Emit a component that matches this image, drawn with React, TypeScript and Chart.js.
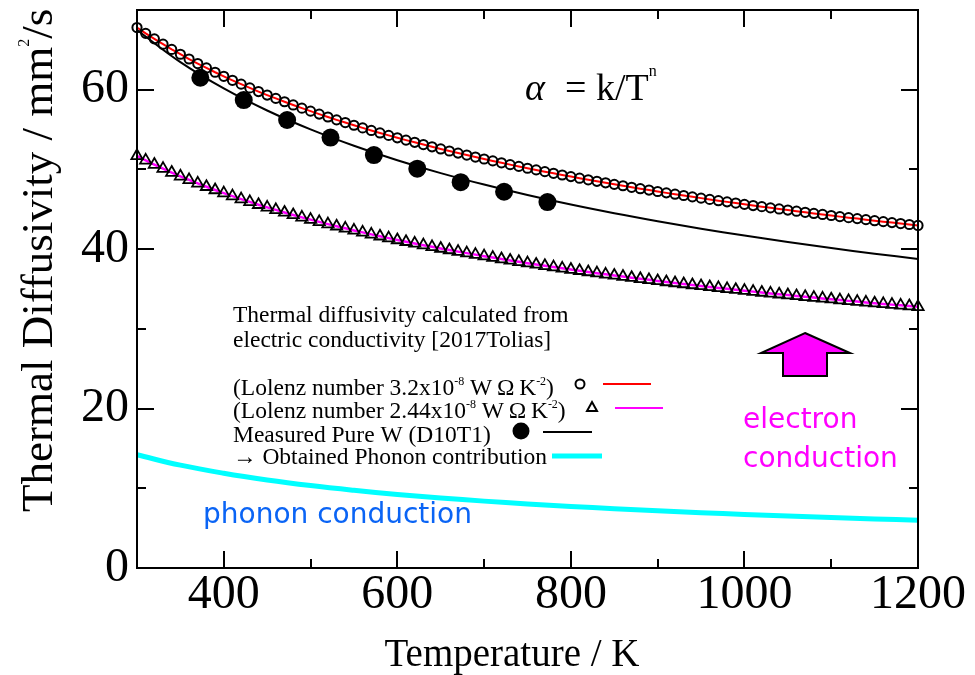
import React, { useEffect, useRef } from "react";
import { Chart, registerables } from "chart.js";

Chart.register(...registerables);

// Calculated thermal diffusivity from electric conductivity [2017Tolias]
const calcTemps = [
  300, 310, 320, 330, 340, 350, 360, 370, 380, 390, 400, 410, 420, 430, 440, 450, 460, 470, 480, 490,
  500, 510, 520, 530, 540, 550, 560, 570, 580, 590, 600, 610, 620, 630, 640, 650, 660, 670, 680, 690,
  700, 710, 720, 730, 740, 750, 760, 770, 780, 790, 800, 810, 820, 830, 840, 850, 860, 870, 880, 890,
  900, 910, 920, 930, 940, 950, 960, 970, 980, 990, 1000, 1010, 1020, 1030, 1040, 1050, 1060, 1070, 1080, 1090,
  1100, 1110, 1120, 1130, 1140, 1150, 1160, 1170, 1180, 1190, 1200,
];
// Lolenz number 3.2e-8
const circleAlpha = [
  67.8, 67.07, 66.38, 65.71, 65.06, 64.45, 63.85, 63.28, 62.73, 62.19, 61.68, 61.18, 60.7, 60.23, 59.77, 59.33, 58.91, 58.49, 58.09, 57.69,
  57.31, 56.94, 56.58, 56.22, 55.88, 55.54, 55.21, 54.89, 54.58, 54.27, 53.97, 53.68, 53.4, 53.12, 52.84, 52.57, 52.31, 52.05, 51.8, 51.55,
  51.31, 51.07, 50.83, 50.6, 50.38, 50.15, 49.94, 49.72, 49.51, 49.3, 49.1, 48.9, 48.7, 48.51, 48.32, 48.13, 47.95, 47.76, 47.58, 47.41,
  47.23, 47.06, 46.89, 46.73, 46.56, 46.4, 46.24, 46.08, 45.93, 45.78, 45.62, 45.47, 45.33, 45.18, 45.04, 44.9, 44.76, 44.62, 44.48, 44.35,
  44.22, 44.08, 43.95, 43.83, 43.7, 43.57, 43.45, 43.33, 43.21, 43.09, 42.97,
];
// Lolenz number 2.44e-8
const triangleAlpha = [
  51.7, 51.14, 50.61, 50.1, 49.61, 49.14, 48.69, 48.25, 47.83, 47.42, 47.03, 46.65, 46.28, 45.93, 45.57, 45.24, 44.92, 44.6, 44.29, 43.99,
  43.7, 43.42, 43.14, 42.87, 42.61, 42.35, 42.1, 41.85, 41.62, 41.38, 41.15, 40.93, 40.72, 40.5, 40.29, 40.08, 39.89, 39.69, 39.5, 39.31,
  39.12, 38.94, 38.76, 38.58, 38.41, 38.24, 38.08, 37.91, 37.75, 37.59, 37.44, 37.29, 37.13, 36.99, 36.84, 36.7, 36.56, 36.42, 36.28, 36.15,
  36.01, 35.88, 35.75, 35.63, 35.5, 35.38, 35.26, 35.14, 35.02, 34.91, 34.79, 34.67, 34.56, 34.45, 34.34, 34.24, 34.13, 34.02, 33.92, 33.82,
  33.72, 33.61, 33.51, 33.42, 33.32, 33.22, 33.13, 33.04, 32.95, 32.86, 32.76,
];

// Measured Pure W (D10T1)
const measuredTemps = [373, 423, 473, 523, 573, 623, 673, 723, 773];
const measuredAlpha = [61.5, 58.7, 56.2, 54.0, 51.8, 50.1, 48.4, 47.2, 45.9];

// Fit curves
const fitTemps = [300, 350, 400, 450, 500, 550, 600, 650, 700, 750, 800, 850, 900, 950, 1000, 1050, 1100, 1150, 1200];
const measuredFitAlpha = [67.5, 63.46, 60.16, 57.39, 55.02, 52.97, 51.16, 49.54, 48.1, 46.79, 45.59, 44.5, 43.5, 42.57, 41.7, 40.9, 40.14, 39.43, 38.77];
const phononAlpha = [14.2, 12.9, 11.88, 11.04, 10.34, 9.75, 9.23, 8.79, 8.39, 8.04, 7.72, 7.44, 7.18, 6.94, 6.72, 6.52, 6.34, 6.16, 6.0];

// Axes
const xMajorTicks = [400, 600, 800, 1000, 1200];
const xMinorTicks = [500, 700, 900, 1100];
const yMajorTicks = [0, 20, 40, 60];
const yMinorTicks = [10, 30, 50, 70];

const SERIF = "'Liberation Serif', 'Times New Roman', serif";
const SANS = "'DejaVu Sans', 'Noto Sans', sans-serif";

const pts = (xs: number[], ys: number[]) => xs.map((x, i) => ({ x, y: ys[i] }));

type Seg = { t: string; sup?: boolean };

function drawRich(ctx: CanvasRenderingContext2D, x: number, y: number, segs: Seg[], size: number, supSize: number, raise: number) {
  let cx = x;
  ctx.textAlign = "left";
  ctx.textBaseline = "alphabetic";
  for (const s of segs) {
    ctx.font = `${s.sup ? supSize : size}px ${SERIF}`;
    ctx.fillText(s.t, cx, s.sup ? y - raise : y);
    cx += ctx.measureText(s.t).width;
  }
  return cx;
}

const decorPlugin = {
  id: "decor",
  afterDraw(chart: any) {
    const ctx: CanvasRenderingContext2D = chart.ctx;
    const { left, right, top, bottom } = chart.chartArea;
    const xs = chart.scales.x;
    const ys = chart.scales.y;
    ctx.save();
    ctx.strokeStyle = "#000";
    ctx.fillStyle = "#000";
    ctx.lineWidth = 2;
    ctx.strokeRect(left, top, right - left, bottom - top);
    const major = 17;
    const minor = 9;
    ctx.beginPath();
    const xt = (vals: number[], len: number) => {
      for (const v of vals) {
        const p = Math.round(xs.getPixelForValue(v));
        ctx.moveTo(p, bottom);
        ctx.lineTo(p, bottom - len);
        ctx.moveTo(p, top);
        ctx.lineTo(p, top + len);
      }
    };
    const yt = (vals: number[], len: number) => {
      for (const v of vals) {
        const p = Math.round(ys.getPixelForValue(v));
        ctx.moveTo(left, p);
        ctx.lineTo(left + len, p);
        ctx.moveTo(right, p);
        ctx.lineTo(right - len, p);
      }
    };
    xt(xMajorTicks, major);
    xt(xMinorTicks, minor);
    yt(yMajorTicks, major);
    yt(yMinorTicks, minor);
    ctx.stroke();

    // Axis titles
    ctx.fillStyle = "#000";
    ctx.font = `39px ${SERIF}`;
    ctx.textAlign = "center";
    ctx.textBaseline = "alphabetic";
    ctx.fillText("Temperature / K", 512, 666);

    ctx.save();
    ctx.translate(52, 512);
    ctx.rotate(-Math.PI / 2);
    drawRich(ctx, 0, 0, [{ t: "Thermal Diffusivity / mm" }, { t: "2", sup: true }, { t: "/s" }], 45, 16, 23);
    ctx.restore();

    // Formula
    ctx.font = `italic 38px ${SERIF}`;
    ctx.textAlign = "left";
    ctx.fillText("\u03b1", 525, 100);
    drawRich(ctx, 565, 100, [{ t: "= k/T" }, { t: "n", sup: true }], 38, 16, 24);

    // Legend block
    const LS = 23.5;
    ctx.fillStyle = "#000";
    drawRich(ctx, 233, 322, [{ t: "Thermal diffusivity calculated from" }], LS, 12, 9);
    drawRich(ctx, 233, 347, [{ t: "electric conductivity [2017Tolias]" }], LS, 12, 9);
    drawRich(ctx, 233, 395, [{ t: "(Lolenz number 3.2x10" }, { t: "-8", sup: true }, { t: " W\u2009\u03a9\u2009K" }, { t: "-2", sup: true }, { t: ")" }], LS, 12, 10);
    drawRich(ctx, 233, 418, [{ t: "(Lolenz number 2.44x10" }, { t: "-8", sup: true }, { t: " W\u2009\u03a9\u2009K" }, { t: "-2", sup: true }, { t: ")" }], LS, 12, 10);
    drawRich(ctx, 233, 442, [{ t: "Measured Pure W (D10T1)" }], LS, 12, 9);
    drawRich(ctx, 233, 464, [{ t: "\u2192 Obtained Phonon contribution" }], LS, 12, 9);

    // Legend symbols
    ctx.lineWidth = 2;
    ctx.strokeStyle = "#000";
    ctx.beginPath();
    ctx.arc(580, 384, 4.5, 0, Math.PI * 2);
    ctx.stroke();
    ctx.strokeStyle = "#ff0000";
    ctx.beginPath();
    ctx.moveTo(603, 384);
    ctx.lineTo(651, 384);
    ctx.stroke();

    ctx.strokeStyle = "#000";
    ctx.beginPath();
    ctx.moveTo(592, 402);
    ctx.lineTo(597, 411);
    ctx.lineTo(587, 411);
    ctx.closePath();
    ctx.stroke();
    ctx.strokeStyle = "#ff00ff";
    ctx.beginPath();
    ctx.moveTo(615, 408);
    ctx.lineTo(663, 408);
    ctx.stroke();

    ctx.fillStyle = "#000";
    ctx.beginPath();
    ctx.arc(521, 431, 8.5, 0, Math.PI * 2);
    ctx.fill();
    ctx.strokeStyle = "#000";
    ctx.beginPath();
    ctx.moveTo(543, 432);
    ctx.lineTo(592, 432);
    ctx.stroke();

    ctx.strokeStyle = "#00ffff";
    ctx.lineWidth = 5;
    ctx.beginPath();
    ctx.moveTo(552, 456);
    ctx.lineTo(602, 456);
    ctx.stroke();

    // Arrow
    ctx.fillStyle = "#ff00ff";
    ctx.strokeStyle = "#000";
    ctx.lineWidth = 2;
    ctx.beginPath();
    ctx.moveTo(805, 333);
    ctx.lineTo(850, 353);
    ctx.lineTo(827, 353);
    ctx.lineTo(827, 376);
    ctx.lineTo(783, 376);
    ctx.lineTo(783, 353);
    ctx.lineTo(761, 353);
    ctx.closePath();
    ctx.fill();
    ctx.stroke();

    // Annotations
    ctx.font = `28px ${SANS}`;
    ctx.textAlign = "left";
    ctx.textBaseline = "alphabetic";
    ctx.fillStyle = "#ff00ff";
    ctx.fillText("electron", 743, 428);
    ctx.fillText("conduction", 743, 467);
    ctx.fillStyle = "#0a64f5";
    ctx.fillText("phonon conduction", 203, 523);

    ctx.restore();
  },
};

export default function App() {
  const ref = useRef<HTMLCanvasElement>(null);
  useEffect(() => {
    const chart = new Chart(ref.current!, {
      type: "scatter",
      data: {
        datasets: [
          {
            label: "Lolenz 3.2",
            data: pts(calcTemps, circleAlpha),
            pointStyle: "circle",
            pointRadius: 4.6,
            pointBorderWidth: 2,
            pointBorderColor: "#000",
            pointBackgroundColor: "rgba(0,0,0,0)",
            showLine: false,
            clip: false,
          },
          {
            label: "Lolenz 2.44",
            data: pts(calcTemps, triangleAlpha),
            pointStyle: "triangle",
            pointRadius: 6.5,
            pointBorderWidth: 1.8,
            pointBorderColor: "#000",
            pointBackgroundColor: "rgba(0,0,0,0)",
            showLine: false,
            clip: false,
          },
          {
            label: "Measured",
            data: pts(measuredTemps, measuredAlpha),
            pointStyle: "circle",
            pointRadius: 9,
            pointBorderWidth: 0,
            pointBackgroundColor: "#000",
            showLine: false,
            clip: false,
          },
          {
            label: "fit 3.2",
            data: pts(calcTemps, circleAlpha),
            showLine: true,
            borderColor: "#ff0000",
            borderWidth: 2,
            pointRadius: 0,
            clip: false,
          },
          {
            label: "fit 2.44",
            data: pts(calcTemps, triangleAlpha),
            showLine: true,
            borderColor: "#ff00ff",
            borderWidth: 2.5,
            pointRadius: 0,
            clip: false,
          },
          {
            label: "fit measured",
            data: pts(fitTemps, measuredFitAlpha),
            showLine: true,
            borderColor: "#000",
            borderWidth: 2,
            pointRadius: 0,
            tension: 0.4,
            clip: false,
          },
          {
            label: "phonon",
            data: pts(fitTemps, phononAlpha),
            showLine: true,
            borderColor: "#00ffff",
            borderWidth: 5,
            pointRadius: 0,
            tension: 0.4,
            clip: false,
          },
        ],
      },
      options: {
        animation: false,
        responsive: false,
        devicePixelRatio: 1,
        layout: { padding: { left: 0, top: 10, right: 57, bottom: 0 } },
        plugins: { legend: { display: false }, tooltip: { enabled: false } },
        scales: {
          x: {
            type: "linear",
            min: 300,
            max: 1200,
            grid: { display: false, drawTicks: false, tickLength: 0 },
            border: { display: false },
            ticks: {
              color: "#000",
              font: { family: SERIF, size: 48 },
              padding: -1,
              maxRotation: 0,
              autoSkip: false,
              callback: (v: any) => String(v),
            },
            afterBuildTicks: (s: any) => {
              s.ticks = xMajorTicks.map((v) => ({ value: v }));
            },
            afterFit: (s: any) => {
              s.height = 107;
              s.paddingLeft = 0;
              s.paddingRight = 0;
            },
          },
          y: {
            type: "linear",
            min: 0,
            max: 70,
            grid: { display: false, drawTicks: false, tickLength: 0 },
            border: { display: false },
            ticks: {
              color: "#000",
              font: { family: SERIF, size: 48 },
              padding: 8,
              autoSkip: false,
              callback: (v: any) => String(v),
            },
            afterBuildTicks: (s: any) => {
              s.ticks = yMajorTicks.map((v) => ({ value: v }));
            },
            afterFit: (s: any) => {
              s.width = 137;
              s.paddingTop = 0;
              s.paddingBottom = 0;
            },
          },
        },
      },
      plugins: [decorPlugin],
    } as any);
    return () => chart.destroy();
  }, []);
  return (
    <div style={{ position: "absolute", left: 0, top: 0, width: 975, height: 675, background: "#fff" }}>
      <canvas ref={ref} width={975} height={675} style={{ width: 975, height: 675, display: "block" }} />
    </div>
  );
}
